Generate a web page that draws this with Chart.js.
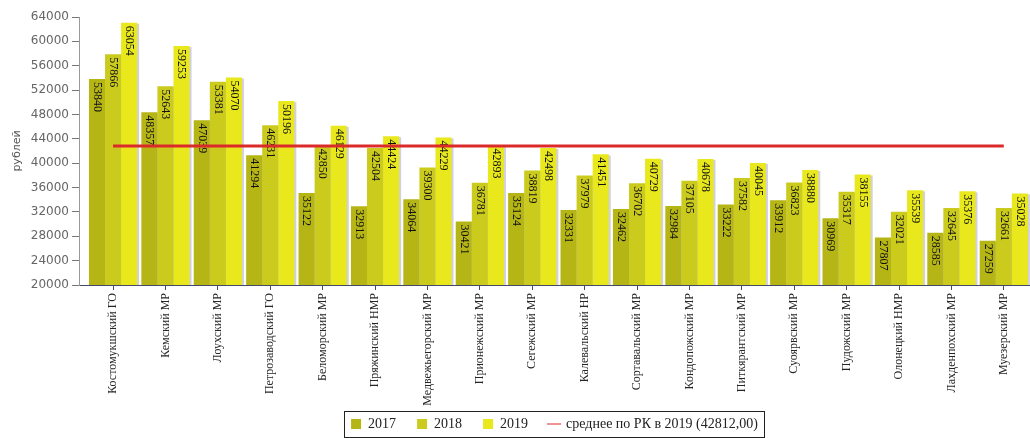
<!DOCTYPE html>
<html>
<head>
<meta charset="utf-8">
<script src="https://cdn.jsdelivr.net/npm/chart.js@4/dist/chart.umd.min.js"></script>
<style>
  html, body { margin: 0; padding: 0; background: #fff; }
</style>
</head>
<body>
<canvas id="salaryChart" width="1030" height="438"></canvas>
<script>
const districts = [
  'Костомукшский ГО', 'Кемский МР', 'Лоухский МР', 'Петрозаводский ГО',
  'Беломорский МР', 'Пряжинский НМР', 'Медвежьегорский МР', 'Прионежский МР',
  'Сегежский МР', 'Калевальский НР', 'Сортавальский МР', 'Кондопожский МР',
  'Питкярантский МР', 'Суоярвский МР', 'Пудожский МР', 'Олонецкий НМР',
  'Лахденпохский МР', 'Муезерский МР'
]
const values2017 = [53840, 48357, 47039, 41294, 35122, 32913, 34064, 30421, 35124,
  32331, 32462, 32984, 33222, 33912, 30969, 27807, 28585, 27259]
const values2018 = [57866, 52643, 53381, 46231, 42850, 42504, 39300, 36781, 38819,
  37979, 36702, 37105, 37582, 36823, 35317, 32021, 32645, 32661]
const values2019 = [63054, 59253, 54070, 50196, 46129, 44424, 44229, 42893, 42498,
  41451, 40729, 40678, 40045, 38880, 38155, 35539, 35376, 35028]
const averageRK2019 = 42812
const averageLabel = 'среднее по РК в 2019 (42812,00)'
const yMin = 20000
const yMax = 64000
const yStep = 4000

function toPoints(values) {
  return values.map(function (v, i) { return { x: i, y: v } })
}

// light shadow to the right of every bar
const barShadow = {
  id: 'barShadow',
  beforeDatasetsDraw: function (chart) {
    const ctx = chart.ctx
    const area = chart.chartArea
    ctx.save()
    ctx.beginPath()
    ctx.rect(area.left, area.top, area.right - area.left, area.bottom - area.top)
    ctx.clip()
    ctx.fillStyle = 'rgba(170, 170, 195, 0.55)'
    chart.getSortedVisibleDatasetMetas().forEach(function (meta) {
      if (meta.type !== 'bar') return
      meta.data.forEach(function (bar) {
        const p = bar.getProps(['x', 'y', 'base', 'width'], true)
        ctx.fillRect(p.x - p.width / 2 + 2, p.y + 1, p.width, p.base - p.y - 1)
      })
    })
    ctx.restore()
  }
}

// vertical value labels at the top inside each bar
const valueLabels = {
  id: 'valueLabels',
  afterDatasetDraw: function (chart, args) {
    const meta = args.meta
    if (meta.type !== 'bar') return
    const ctx = chart.ctx
    const dataset = chart.data.datasets[args.index]
    ctx.save()
    ctx.font = '12px "Liberation Serif", serif'
    ctx.fillStyle = '#111'
    ctx.textAlign = 'left'
    ctx.textBaseline = 'middle'
    meta.data.forEach(function (bar, i) {
      const p = bar.getProps(['x', 'y'], true)
      ctx.save()
      ctx.translate(p.x, p.y + 3)
      ctx.rotate(Math.PI / 2)
      ctx.fillText(String(dataset.data[i].y), 0, 0)
      ctx.restore()
    })
    ctx.restore()
  }
}

// legend takes little layout room but sits a bit higher, plus a frame round it
const legendFrame = {
  id: 'legendFrame',
  beforeUpdate: function (chart) {
    const legend = chart.legend
    if (!legend || legend._compactFit) return
    const origFit = legend.fit
    legend.fit = function () {
      origFit.call(this)
      this.height = 30
    }
    legend._compactFit = true
  },
  afterLayout: function (chart) {
    const legend = chart.legend
    if (!legend) return
    legend.top = chart.height - 42
    legend.bottom = chart.height
    legend.height = 42
  },
  afterDraw: function (chart) {
    const boxes = chart.legend && chart.legend.legendHitBoxes
    if (!boxes || !boxes.length) return
    let left = Infinity, right = -Infinity, top = Infinity, bottom = -Infinity
    boxes.forEach(function (b) {
      left = Math.min(left, b.left)
      right = Math.max(right, b.left + b.width)
      top = Math.min(top, b.top)
      bottom = Math.max(bottom, b.top + b.height)
    })
    const ctx = chart.ctx
    ctx.save()
    ctx.strokeStyle = '#222'
    ctx.lineWidth = 1
    ctx.strokeRect(Math.round(left - 7) + 0.5, Math.round(top - 6) + 0.5,
      Math.round(right - left + 13), Math.round(bottom - top + 12))
    ctx.restore()
  }
}

const ctx = document.getElementById('salaryChart').getContext('2d')

new Chart(ctx, {
  type: 'bar',
  data: {
    datasets: [
      { label: '2017', data: toPoints(values2017), backgroundColor: '#b5b516', order: 1 },
      { label: '2018', data: toPoints(values2018), backgroundColor: '#cbcb1e', order: 1 },
      { label: '2019', data: toPoints(values2019), backgroundColor: '#e8e81c', order: 1 },
      {
        type: 'line',
        label: averageLabel,
        data: [{ x: 0, y: averageRK2019 }, { x: districts.length - 1, y: averageRK2019 }],
        borderColor: '#dc2a2a',
        borderWidth: 3,
        pointRadius: 0,
        order: 0
      }
    ]
  },
  options: {
    responsive: false,
    animation: false,
    devicePixelRatio: 1,
    layout: { padding: { top: 17, right: 0, left: 0, bottom: 0 } },
    datasets: {
      bar: { categoryPercentage: 0.92, barPercentage: 1 }
    },
    scales: {
      x: {
        type: 'linear',
        offset: false,
        min: -0.65,
        max: 17.5,
        afterBuildTicks: function (scale) {
          scale.ticks = districts.map(function (_, i) { return { value: i } })
        },
        afterFit: function (scale) { scale.height = 123 },
        ticks: {
          autoSkip: false,
          minRotation: 90,
          maxRotation: 90,
          padding: 3,
          color: '#262626',
          font: { family: '"Liberation Serif", serif', size: 12 },
          callback: function (value) { return districts[value] }
        },
        grid: { offset: false, drawOnChartArea: false, tickLength: 5, color: '#44486a' },
        border: { color: '#44486a', width: 1 }
      },
      y: {
        min: yMin,
        max: yMax,
        afterFit: function (scale) { scale.width = 79 },
        ticks: {
          stepSize: yStep,
          padding: 3,
          color: '#666',
          font: { family: '"DejaVu Sans", sans-serif', size: 12 },
          callback: function (value) { return String(value) }
        },
        grid: { drawOnChartArea: false, tickLength: 7, color: '#777' },
        border: { color: '#999', width: 1 },
        title: {
          display: true,
          text: 'рублей',
          color: '#555',
          padding: { top: 11, bottom: 0 },
          font: { family: '"DejaVu Sans", sans-serif', size: 11 }
        }
      }
    },
    plugins: {
      tooltip: { enabled: false },
      legend: {
        position: 'bottom',
        fullSize: false,
        labels: {
          usePointStyle: true,
          boxWidth: 10,
          boxHeight: 10,
          padding: 21,
          color: '#222',
          font: { family: '"Liberation Serif", serif', size: 14 },
          sort: function (a, b) { return a.datasetIndex - b.datasetIndex },
          generateLabels: function (chart) {
            const items = Chart.defaults.plugins.legend.labels.generateLabels(chart)
            items.forEach(function (item) {
              const ds = chart.data.datasets[item.datasetIndex]
              if (ds.type === 'line') {
                item.pointStyle = 'line'
                item.strokeStyle = ds.borderColor
                item.lineWidth = 1
              } else {
                item.pointStyle = 'rect'
                item.fillStyle = ds.backgroundColor
                item.strokeStyle = ds.backgroundColor
                item.lineWidth = 0
              }
            })
            return items
          }
        }
      }
    }
  },
  plugins: [barShadow, valueLabels, legendFrame]
})
</script>
</body>
</html>
